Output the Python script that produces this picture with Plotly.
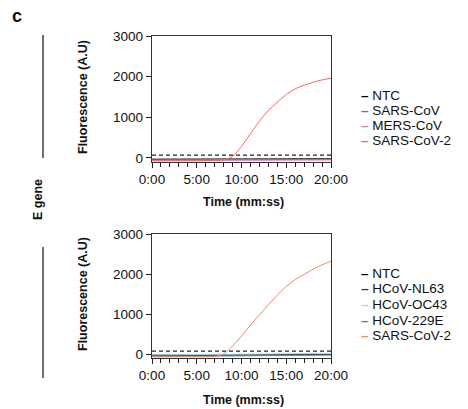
import plotly.graph_objects as go

# time axis (minutes)
minutes = list(range(21))
tick_vals = [0, 5, 10, 15, 20]
tick_text = ["0:00", "5:00", "10:00", "15:00", "20:00"]
threshold = [70] * 21

# top panel series
top_names = ["NTC", "SARS-CoV", "MERS-CoV", "SARS-CoV-2"]
top_colors = ["#000000", "#7b5ea7", "#e879b9", "#ef6a60"]
top_ntc = [-30, -30, -28, -29, -27, -28, -26, -27, -25, -26, -24, -25, -23, -24, -22, -23, -21, -22, -20, -21, -20]
top_sars = [-55, -54, -53, -52, -52, -50, -49, -48, -47, -45, -44, -43, -42, -41, -40, -39, -38, -37, -36, -35, -34]
top_mers = [-65, -64, -64, -63, -62, -62, -61, -60, -60, -59, -58, -57, -57, -56, -55, -55, -54, -53, -53, -52, -51]
top_sars2 = [-70, -70, -69, -68, -68, -67, -66, -62, -45, 40, 280, 600, 900, 1170, 1370, 1560, 1700, 1790, 1860, 1920, 1960]

# bottom panel series
bot_names = ["NTC", "HCoV-NL63", "HCoV-OC43", "HCoV-229E", "SARS-CoV-2"]
bot_colors = ["#000000", "#1f3a63", "#9fd6f2", "#5a7ea6", "#f08a62"]
bot_ntc = [-25, -25, -24, -24, -23, -23, -22, -22, -21, -21, -20, -20, -19, -19, -18, -18, -17, -17, -16, -16, -15]
bot_nl63 = [-45, -44, -43, -42, -40, -39, -37, -36, -34, -32, -30, -28, -26, -24, -22, -20, -18, -16, -14, -12, -10]
bot_oc43 = [-20, -19, -18, -16, -15, -13, -12, -10, -8, -6, -4, -2, 0, 2, 4, 6, 8, 10, 12, 14, 16]
bot_229e = [-60, -59, -58, -57, -55, -54, -52, -51, -49, -47, -45, -43, -41, -39, -37, -35, -33, -31, -29, -27, -25]
bot_sars2 = [-70, -70, -69, -68, -68, -67, -66, -60, 0, 200, 450, 720, 980, 1230, 1470, 1690, 1860, 1990, 2120, 2230, 2320]

FONT = "Liberation Sans, Arial, sans-serif"
W, H = 468, 409

fig = go.Figure()

panels = [
    ("x", "y", top_names, top_colors, [top_ntc, top_sars, top_mers, top_sars2]),
    ("x2", "y2", bot_names, bot_colors, [bot_ntc, bot_nl63, bot_oc43, bot_229e, bot_sars2]),
]
for xa, ya, names, colors, series in panels:
    fig.add_trace(go.Scatter(x=minutes, y=threshold, xaxis=xa, yaxis=ya, mode="lines",
                             line=dict(color="#222", width=1.2, dash="4px,3px"), showlegend=False))
    for name, color, vals in zip(names, colors, series):
        fig.add_trace(go.Scatter(x=minutes, y=vals, xaxis=xa, yaxis=ya, mode="lines", name=name,
                                 line=dict(color=color, width=1.0, shape="spline"), showlegend=False))

xaxis_common = dict(
    range=[0, 20], tickvals=tick_vals, ticktext=tick_text, ticks="outside", ticklen=5,
    tickwidth=1.2, tickcolor="#222", automargin=False,
    minor=dict(dtick=1, ticks="outside", ticklen=4, tickcolor="#222", tickwidth=1),
    showline=True, linecolor="#333", linewidth=1.4, mirror=True, showgrid=False, zeroline=False,
    tickfont=dict(size=13.5, color="#111"),
)
yaxis_common = dict(
    range=[-100, 3000], tickvals=[0, 1000, 2000, 3000], ticks="outside", ticklen=5, tickwidth=1.2,
    tickcolor="#222", showline=True, linecolor="#333", linewidth=1.4, mirror=True, automargin=False,
    showgrid=False, zeroline=False, tickfont=dict(size=13.5, color="#111"),
)

fig.update_layout(
    width=W, height=H, margin=dict(l=0, r=0, t=0, b=0, autoexpand=False),
    paper_bgcolor="white", plot_bgcolor="white",
    font=dict(family=FONT, color="#111"),
    xaxis=dict(domain=[152 / W, 331 / W], anchor="y", **xaxis_common),
    yaxis=dict(domain=[1 - 162 / H, 1 - 36 / H], anchor="x", **yaxis_common),
    xaxis2=dict(domain=[152 / W, 331 / W], anchor="y2", **xaxis_common),
    yaxis2=dict(domain=[1 - 358 / H, 1 - 234 / H], anchor="x2", **yaxis_common),
)


def ann(x, y, text, size, xanchor="center", yanchor="middle", **kw):
    fig.add_annotation(x=x / W, y=1 - y / H, xref="paper", yref="paper", showarrow=False,
                       xanchor=xanchor, yanchor=yanchor,
                       text=text, font=dict(size=size, color="#111", family=FONT), **kw)


# axis titles
for top, bottom, xt_y in [(36, 162, 202), (234, 358, 400)]:
    ann(83, (top + bottom) / 2 - 2, "<b>Fluorescence (A.U)</b>", 12.5, textangle=-90)
    ann(243, xt_y, "<b>Time (mm:ss)</b>", 12.5)


# legend-like labels: short coloured dash + name
def add_legend(names, colors, y_top, step):
    for i, (name, color) in enumerate(zip(names, colors)):
        ann(360, y_top + i * step, f'<span style="color:{color}"><b>–</b></span> {name}', 13.5,
            xanchor="left", borderpad=0)


add_legend(top_names, top_colors, 95, 15)
add_legend(bot_names, bot_colors, 273, 15.7)

# panel letter and row label
ann(10, 16, "<b>c</b>", 18, xanchor="left")
ann(38, 200, "<b>E gene</b>", 12.5, textangle=-90)
for y0, y1 in [(35, 158), (247, 378)]:
    fig.add_shape(type="line", xref="paper", yref="paper", x0=43 / W, x1=43 / W,
                  y0=1 - y0 / H, y1=1 - y1 / H, line=dict(color="#222", width=1.3))

fig.write_html("out.html", config={"displayModeBar": False},
               post_script="document.body.style.margin='0';")
